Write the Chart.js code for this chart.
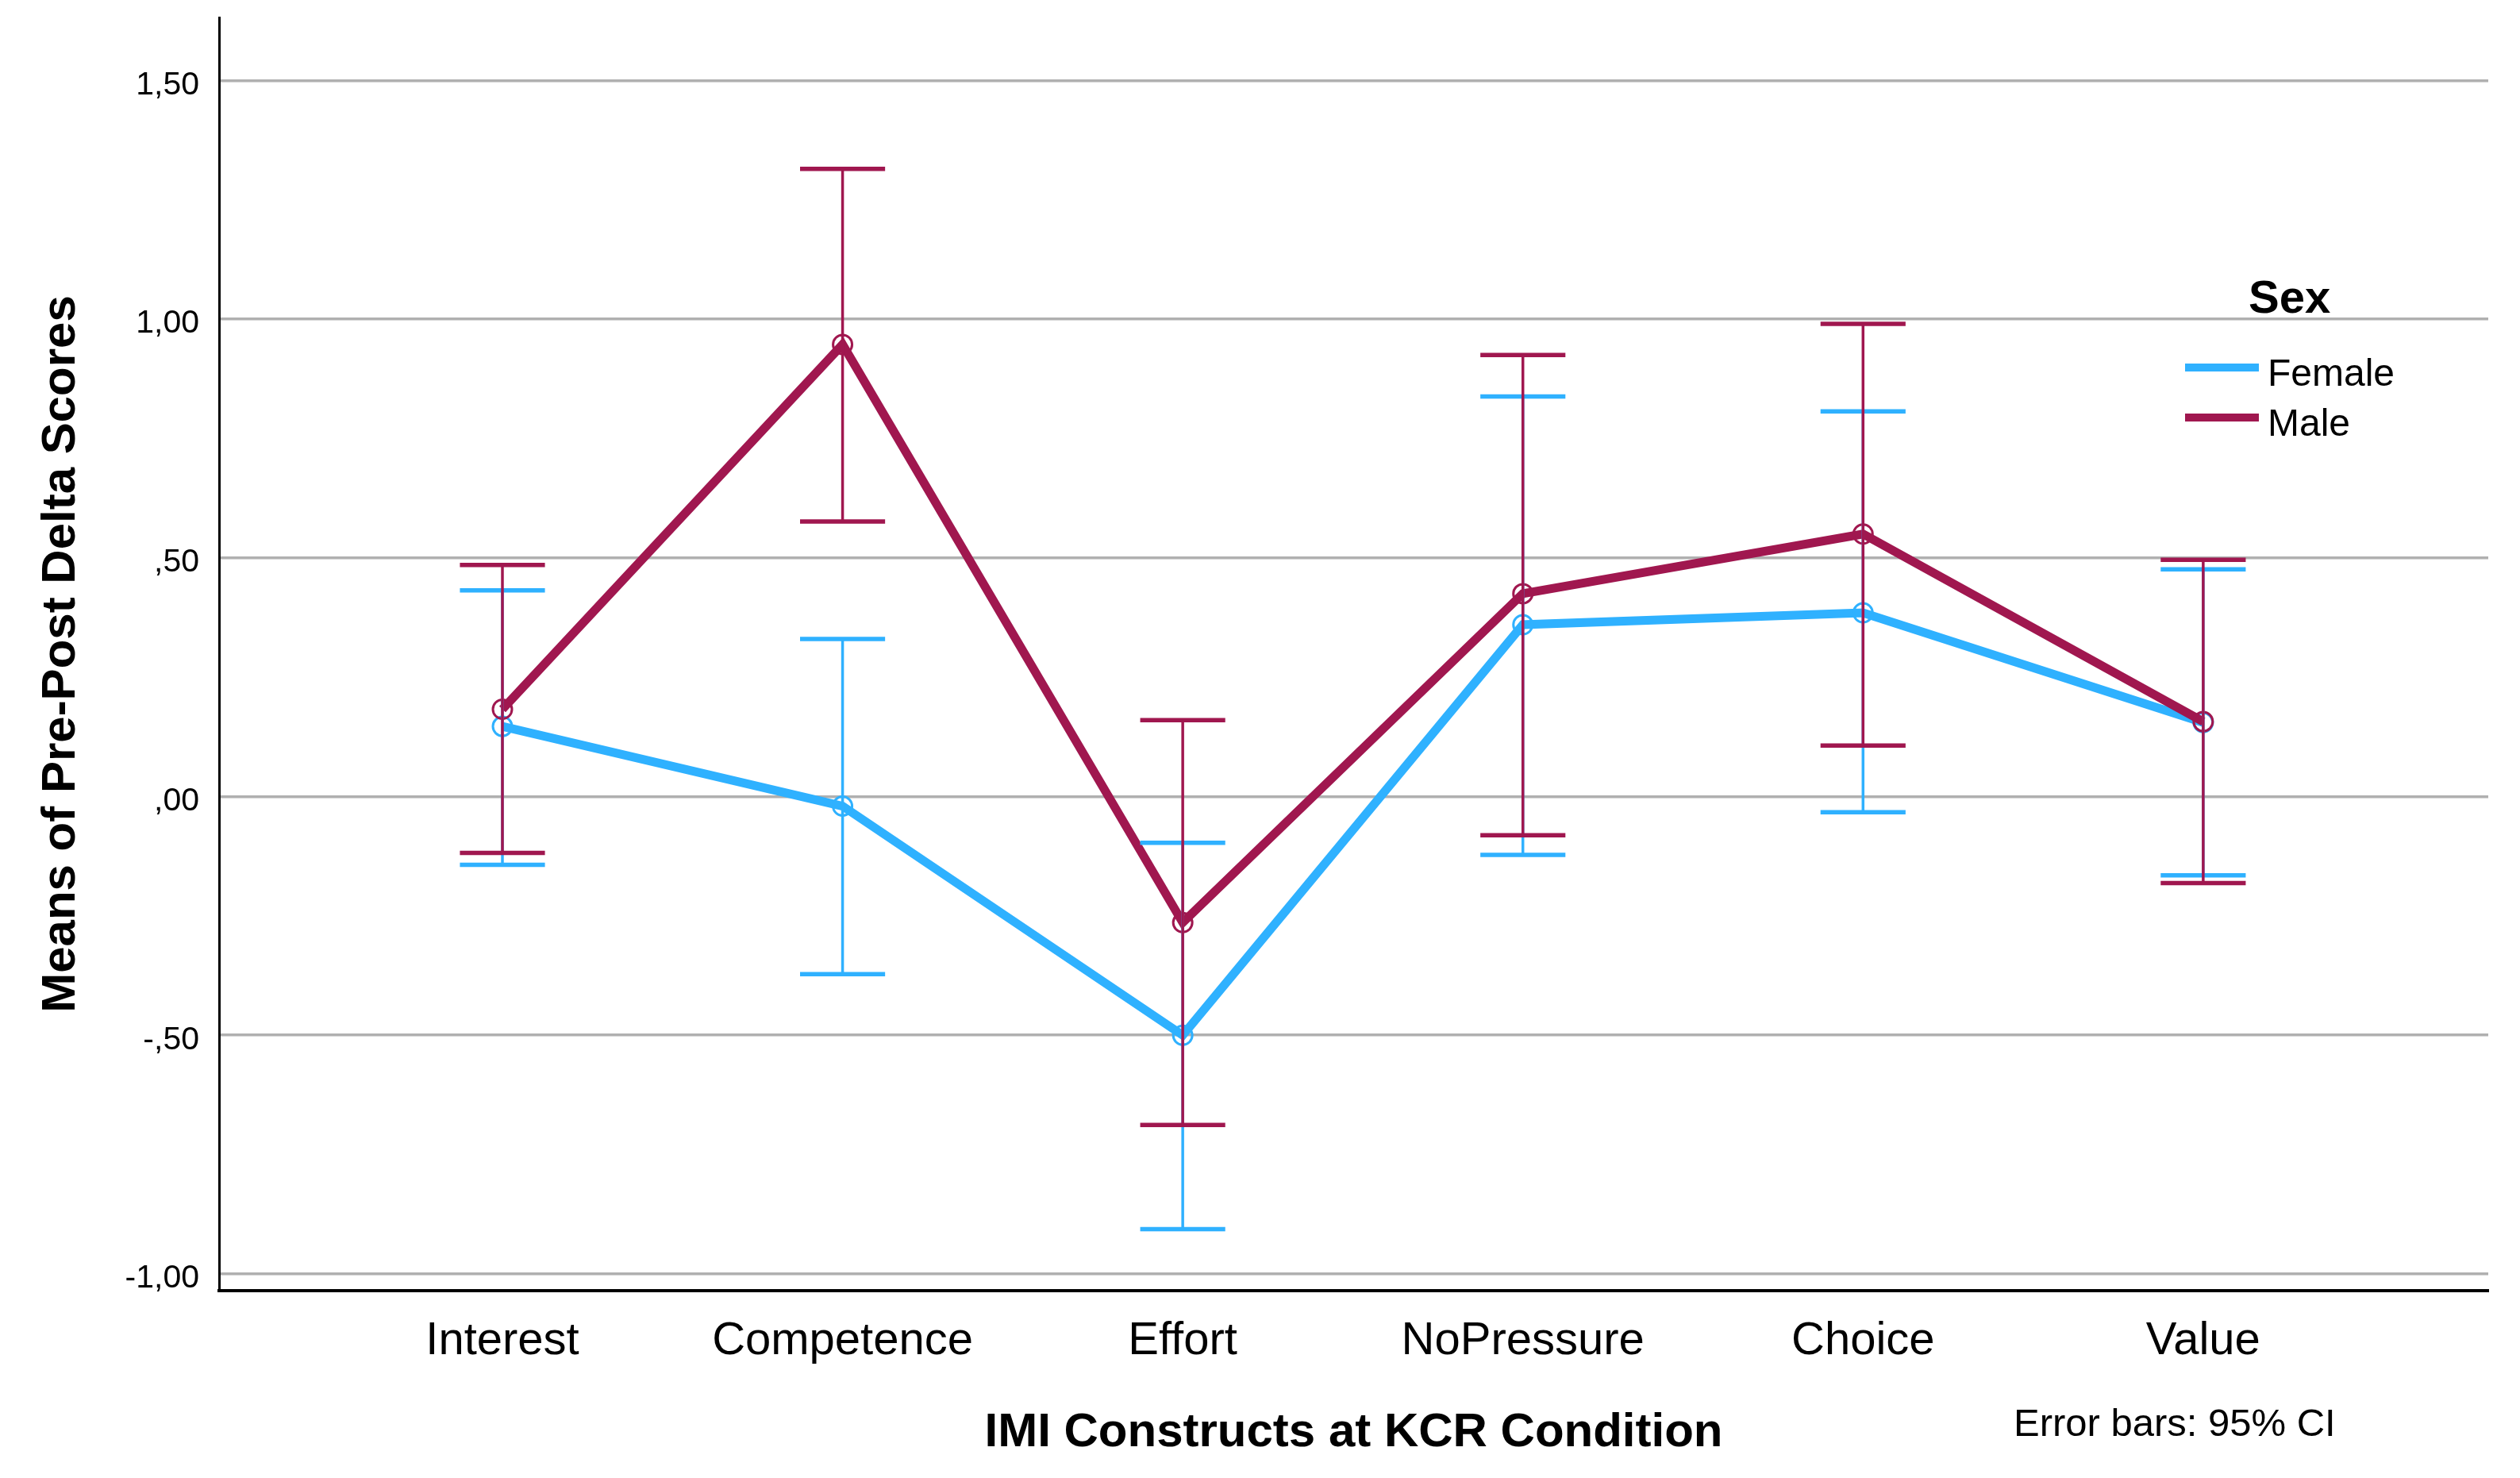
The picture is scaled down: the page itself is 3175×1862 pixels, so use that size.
<!DOCTYPE html>
<html>
<head>
<meta charset="utf-8">
<script src="https://cdn.jsdelivr.net/npm/chart.js@4.4.1/dist/chart.umd.min.js"></script>
<style>
html,body{margin:0;padding:0;background:#fff;overflow:hidden;}
#wrap{position:relative;width:3175px;height:1862px;background:#fff;}
#c{position:absolute;left:0;top:0;}
.t{position:absolute;font-family:"Liberation Sans",Arial,Helvetica,sans-serif;color:#000;white-space:nowrap;line-height:1;}
.sw{position:absolute;height:10px;width:93px;}
</style>
</head>
<body>
<div id="wrap">
<canvas id="c" width="3175" height="1862"></canvas>
<div class="t" id="legTitle" style="left:2833px;top:345px;font-size:58px;font-weight:bold;"></div>
<div class="sw" id="sw0" style="left:2753px;top:458px;"></div>
<div class="t" id="leg0" style="left:2857px;top:446px;font-size:48px;"></div>
<div class="sw" id="sw1" style="left:2753px;top:521px;"></div>
<div class="t" id="leg1" style="left:2857px;top:509px;font-size:48px;"></div>
<div class="t" id="note" style="left:2537px;top:1768px;font-size:49px;"></div>
</div>
<script>
// ---- data ----
const categories = ["Interest", "Competence", "Effort", "NoPressure", "Choice", "Value"];
const seriesNames = ["Female", "Male"];
const femaleMeans = [0.147, -0.02, -0.50, 0.36, 0.385, 0.155];
const femaleLow   = [-0.143, -0.372, -0.906, -0.122, -0.033, -0.165];
const femaleHigh  = [0.432, 0.33, -0.097, 0.838, 0.807, 0.476];
const maleMeans   = [0.183, 0.947, -0.264, 0.425, 0.55, 0.157];
const maleLow     = [-0.118, 0.576, -0.688, -0.081, 0.107, -0.181];
const maleHigh    = [0.485, 1.315, 0.16, 0.925, 0.99, 0.496];
const yTickValues = [-1, -0.5, 0, 0.5, 1, 1.5];
const yTickLabels = ["-1,00", "-,50", ",00", ",50", "1,00", "1,50"];
const xTitle = "IMI Constructs at KCR Condition";
const yTitle = "Means of Pre-Post Delta Scores";
const legendTitle = "Sex";
const noteText = "Error bars: 95% CI";

// ---- style ----
const BLUE = "#2fb1ff";
const MAROON = "#a0174f";
const FONT = '"Liberation Sans", Arial, Helvetica, sans-serif';

document.getElementById('legTitle').textContent = legendTitle;
document.getElementById('leg0').textContent = seriesNames[0];
document.getElementById('leg1').textContent = seriesNames[1];
document.getElementById('sw0').style.background = BLUE;
document.getElementById('sw1').style.background = MAROON;
document.getElementById('note').textContent = noteText;

const toPts = arr => arr.map((v, i) => ({x: i, y: v}));

const errorBars = {
  id: 'errorBars',
  afterDatasetsDraw(chart) {
    const {ctx, scales: {x, y}} = chart;
    const sets = [
      {low: femaleLow, high: femaleHigh, color: BLUE},
      {low: maleLow, high: maleHigh, color: MAROON}
    ];
    ctx.save();
    ctx.lineCap = 'butt';
    sets.forEach(s => {
      categories.forEach((c, i) => {
        const px = x.getPixelForValue(i);
        const yl = y.getPixelForValue(s.low[i]);
        const yh = y.getPixelForValue(s.high[i]);
        const half = (x.getPixelForValue(1) - x.getPixelForValue(0)) * 0.125;
        ctx.strokeStyle = s.color;
        ctx.lineWidth = 3.5;
        ctx.beginPath();
        ctx.moveTo(px, yl); ctx.lineTo(px, yh);
        ctx.stroke();
        ctx.lineWidth = 5.5;
        ctx.beginPath();
        ctx.moveTo(px - half, yl); ctx.lineTo(px + half, yl);
        ctx.moveTo(px - half, yh); ctx.lineTo(px + half, yh);
        ctx.stroke();
      });
    });
    ctx.restore();
  }
};

new Chart(document.getElementById('c'), {
  type: 'line',
  data: {
    datasets: [
      {
        label: seriesNames[0], data: toPts(femaleMeans), order: 2,
        borderColor: BLUE, borderWidth: 11, tension: 0, fill: false,
        pointRadius: 12, pointBorderWidth: 3, pointBorderColor: BLUE,
        pointBackgroundColor: 'rgba(0,0,0,0)'
      },
      {
        label: seriesNames[1], data: toPts(maleMeans), order: 1,
        borderColor: MAROON, borderWidth: 11, tension: 0, fill: false,
        pointRadius: 12, pointBorderWidth: 3, pointBorderColor: MAROON,
        pointBackgroundColor: 'rgba(0,0,0,0)'
      }
    ]
  },
  options: {
    responsive: false,
    devicePixelRatio: 1,
    animation: false,
    layout: {padding: {top: 22, right: 40, left: 0, bottom: 0}},
    plugins: {legend: {display: false}, tooltip: {enabled: false}},
    scales: {
      x: {
        type: 'linear', min: -0.833, max: 5.838,
        afterBuildTicks: s => { s.ticks = categories.map((c, i) => ({value: i})); },
        ticks: {
          callback: v => categories[Math.round(v)],
          font: {family: FONT, size: 58}, color: '#000', padding: 29,
          maxRotation: 0, autoSkip: false
        },
        grid: {display: false, drawTicks: false},
        border: {display: true, color: '#000', width: 4},
        title: {display: true, text: xTitle, color: '#000',
          font: {family: FONT, size: 60, weight: 'bold'}, padding: {top: 0, bottom: 21}},
        afterFit: s => { s.height = 236; s.paddingLeft = 0; s.paddingRight = 0; }
      },
      y: {
        type: 'linear', min: -1.035, max: 1.632,
        afterBuildTicks: s => { s.ticks = yTickValues.map(v => ({value: v})); },
        ticks: {
          callback: v => yTickLabels[yTickValues.indexOf(v)],
          font: {family: FONT, size: 41}, color: '#000', padding: 25,
          labelOffset: 6
        },
        grid: {color: '#b0b0b0', lineWidth: 3.5, drawTicks: false},
        border: {display: true, color: '#000', width: 3},
        title: {display: true, text: yTitle, color: '#000',
          font: {family: FONT, size: 60, weight: 'bold'}, padding: {top: 41, bottom: 0}},
        afterFit: s => { s.width = 276; s.paddingTop = 0; s.paddingBottom = 0; }
      }
    }
  },
  plugins: [errorBars]
});
</script>
</body>
</html>
